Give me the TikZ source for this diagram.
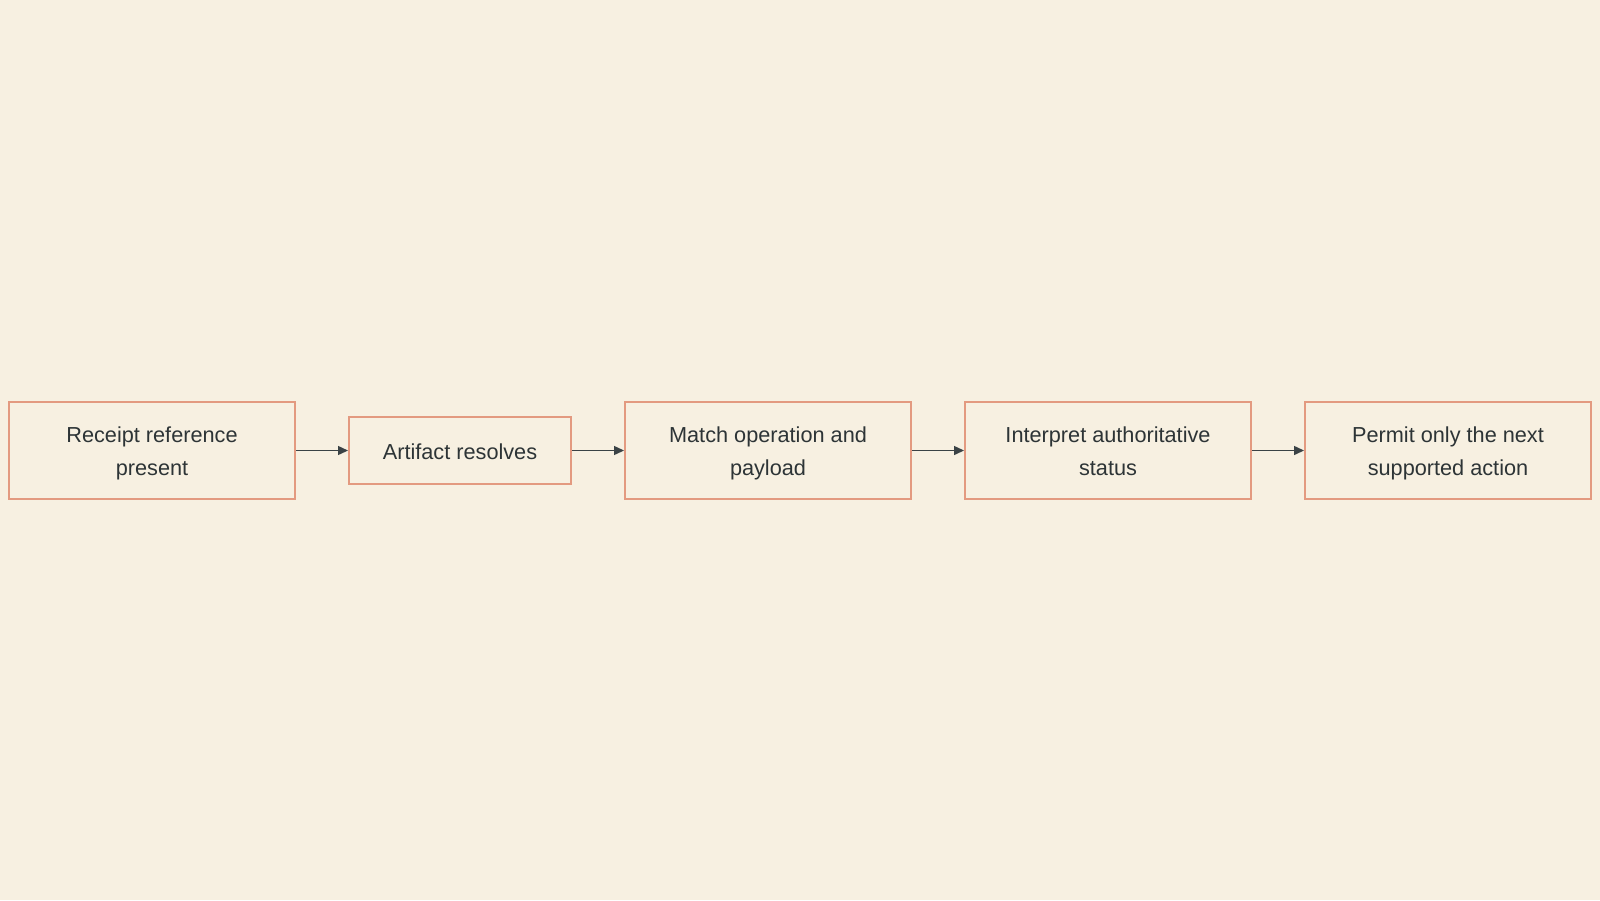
\documentclass[tikz,border=0pt]{standalone}
\usepackage{fontspec}
\setmainfont{Liberation Sans}
\usetikzlibrary{arrows.meta}
\definecolor{bgc}{HTML}{F7F0E1}
\definecolor{boxc}{HTML}{E39A80}
\definecolor{txtc}{HTML}{2D3436}
\definecolor{arrc}{HTML}{3A4245}
\newcommand{\lnstrut}{\rule[-5pt]{0pt}{27pt}}
\tikzset{
  stepbox/.style={draw=boxc, line width=2pt, fill=bgc, align=center, text=txtc,
    font=\fontsize{21.7pt}{33pt}\selectfont, inner sep=0pt, minimum height=97pt, minimum width=286pt},
  conn/.style={draw=arrc, line width=1.4pt, -{Triangle[length=10pt,width=9pt]}}
}
\begin{document}
\begin{tikzpicture}[x=1pt,y=1pt]
\useasboundingbox[fill=bgc] (0,0) rectangle (1600,-900);
\node[stepbox] (a) at (152,-450.5) {\lnstrut Receipt reference\\\lnstrut present};
\node[stepbox, minimum width=222pt, minimum height=67pt] (b) at (460,-450.5) {\lnstrut Artifact resolves};
\node[stepbox] (c) at (768,-450.5) {\lnstrut Match operation and\\\lnstrut payload};
\node[stepbox] (d) at (1108,-450.5) {\lnstrut Interpret authoritative\\\lnstrut status};
\node[stepbox] (e) at (1448,-450.5) {\lnstrut Permit only the next\\\lnstrut supported action};
\draw[conn] (a) -- (b);
\draw[conn] (b) -- (c);
\draw[conn] (c) -- (d);
\draw[conn] (d) -- (e);
\end{tikzpicture}
\end{document}
